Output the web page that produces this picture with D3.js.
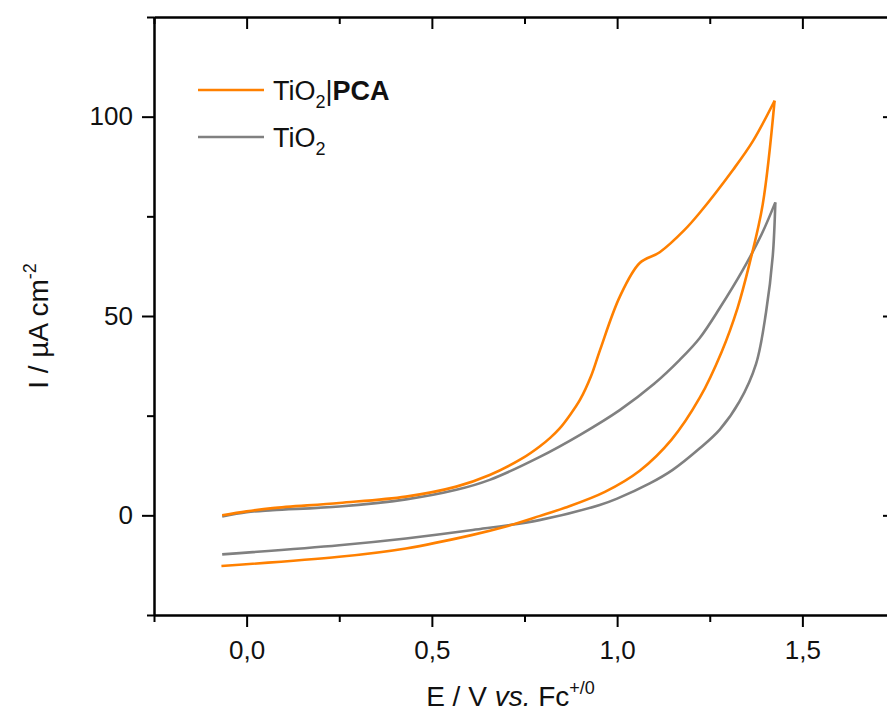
<!DOCTYPE html>
<html>
<head>
<meta charset="utf-8">
<script src="https://cdn.jsdelivr.net/npm/d3@7"></script>
<style>
  body { margin: 0; background: #fff; }
  svg { font-family: Arial, "Liberation Sans", sans-serif; display: block; }
  .axis path, .axis line { stroke: #000; stroke-width: 2px; }
  .axis text { font-size: 26px; fill: #111; }
</style>
</head>
<body>
<div id="cv"></div>
<script>
// Data: E (V vs Fc+/0) and I (uA cm-2)
// TiO2|PCA, forward scan
const pcaFwdE = [-0.066, 0.0, 0.07, 0.25, 0.43, 0.566, 0.656, 0.746, 0.79, 0.82, 0.845, 0.87, 0.90, 0.93, 0.954, 1.007, 1.061, 1.115, 1.182, 1.223, 1.313, 1.366, 1.425];
const pcaFwdI = [0, 1.0, 1.8, 3.1, 4.7, 7.2, 10.1, 14.4, 17.2, 19.5, 21.8, 24.8, 29, 35, 41.5, 54.8, 63.3, 66.0, 71.6, 75.9, 86.7, 93.8, 104];
// TiO2|PCA, reverse scan
const pcaRevE = [1.425, 1.393, 1.357, 1.325, 1.282, 1.223, 1.147, 1.061, 0.967, 0.859, 0.79, 0.70, 0.61, 0.43, 0.25, -0.068];
const pcaRevI = [104, 78, 63, 52, 41, 29.5, 19, 11.2, 5.9, 1.9, -0.2, -2.8, -4.9, -8.3, -10.4, -12.7];
// TiO2, forward scan
const tioFwdE = [-0.066, 0.0, 0.07, 0.25, 0.43, 0.566, 0.656, 0.79, 0.9, 1.007, 1.1, 1.169, 1.223, 1.277, 1.339, 1.39, 1.427];
const tioFwdI = [-0.3, 0.8, 1.3, 2.2, 4.0, 6.4, 8.9, 14.6, 20.2, 26.4, 33, 39, 44.5, 52, 61.5, 70.5, 78.5];
// TiO2, reverse scan
const tioRevE = [1.427, 1.42, 1.402, 1.375, 1.33, 1.277, 1.223, 1.15, 1.088, 1.0, 0.953, 0.79, 0.61, 0.43, 0.25, -0.066];
const tioRevI = [78.5, 65, 51, 38, 28.5, 21.5, 16.8, 11.4, 8.0, 4.2, 2.6, -1.2, -3.7, -5.8, -7.5, -9.8];

const xMajor = [0, 0.5, 1.0, 1.5];
const xMinor = [-0.25, 0.25, 0.75, 1.25, 1.75];
const yMajor = [0, 50, 100];
const yMinor = [-25, 25, 75, 125];

const orange = "#ff8000";
const grey = "#808080";

let margin = {top: 17, right: 0, bottom: 103, left: 154};
let width = 741;
let height = 598;

var svg = d3.select("#cv")
  .append("svg")
    .attr("width", 887)
    .attr("height", 718)
  .append("g")
    .attr("transform", "translate(" + margin.left + "," + margin.top + ")");

var x = d3.scaleLinear().domain([-0.25, 1.75]).range([0, width]);
var y = d3.scaleLinear().domain([-25, 125]).range([height, 0]);

const commaFmt = d => d3.format(".1f")(d).replace(".", ",");

// bottom axis
svg.append("g").attr("class", "axis")
  .attr("transform", "translate(0," + height + ")")
  .call(d3.axisBottom(x).tickValues(xMinor).tickSize(7).tickSizeOuter(0).tickFormat(""));
svg.append("g").attr("class", "axis")
  .attr("transform", "translate(0," + height + ")")
  .call(d3.axisBottom(x).tickValues(xMajor).tickSize(12).tickSizeOuter(0).tickPadding(14).tickFormat(commaFmt));
// top axis, ticks inward
svg.append("g").attr("class", "axis")
  .call(d3.axisTop(x).tickValues(xMinor).tickSize(-7).tickSizeOuter(0).tickFormat(""));
svg.append("g").attr("class", "axis")
  .call(d3.axisTop(x).tickValues(xMajor).tickSize(-12).tickSizeOuter(0).tickFormat(""));
// left axis
svg.append("g").attr("class", "axis")
  .call(d3.axisLeft(y).tickValues(yMinor).tickSize(7).tickSizeOuter(0).tickFormat(""));
svg.append("g").attr("class", "axis")
  .call(d3.axisLeft(y).tickValues(yMajor).tickSize(12).tickSizeOuter(0).tickPadding(9).tickFormat(d3.format("d")));
// right axis, ticks inward
svg.append("g").attr("class", "axis")
  .attr("transform", "translate(" + width + ",0)")
  .call(d3.axisRight(y).tickValues(yMinor).tickSize(-7).tickSizeOuter(0).tickFormat(""));
svg.append("g").attr("class", "axis")
  .attr("transform", "translate(" + width + ",0)")
  .call(d3.axisRight(y).tickValues(yMajor).tickSize(-12).tickSizeOuter(0).tickFormat(""));

// curves
let line = d3.line()
  .x(d => x(d[0]))
  .y(d => y(d[1]))
  .curve(d3.curveCatmullRom.alpha(0.5));

function branch(es, is) {
  return es.map((e, i) => [e, is[i]]);
}

let curves = [
  {pts: branch(tioFwdE, tioFwdI), color: grey},
  {pts: branch(tioRevE, tioRevI), color: grey},
  {pts: branch(pcaFwdE, pcaFwdI), color: orange},
  {pts: branch(pcaRevE, pcaRevI), color: orange}
];

svg.selectAll(".cv")
  .data(curves)
  .enter()
  .append("path")
    .attr("class", "cv")
    .attr("fill", "none")
    .attr("stroke", d => d.color)
    .attr("stroke-width", 2.6)
    .attr("stroke-linejoin", "round")
    .attr("d", d => line(d.pts));

// legend
let legend = svg.append("g").attr("transform", "translate(44,73)");
let legendItems = [
  {color: orange, y: 0, pca: true},
  {color: grey, y: 47, pca: false}
];
legendItems.forEach(it => {
  legend.append("line")
    .attr("x1", 0).attr("x2", 66)
    .attr("y1", it.y).attr("y2", it.y)
    .attr("stroke", it.color).attr("stroke-width", 2.6);
  let t = legend.append("text")
    .attr("x", 75).attr("y", it.y + 10)
    .style("font-size", "27px").style("fill", "#111");
  t.append("tspan").text("TiO");
  t.append("tspan").attr("dy", 8).style("font-size", "18px").text("2");
  if (it.pca) {
    t.append("tspan").attr("dy", -8).text("|");
    t.append("tspan").style("font-weight", "bold").text("PCA");
  }
});

// axis titles
let xt = svg.append("text")
  .attr("x", width / 2 - 14)
  .attr("y", height + 91)
  .attr("text-anchor", "middle")
  .style("font-size", "28px").style("fill", "#111");
xt.append("tspan").text("E / V ");
xt.append("tspan").style("font-style", "italic").text("vs.");
xt.append("tspan").text(" Fc");
xt.append("tspan").attr("dy", -12).style("font-size", "18px").text("+/0");

let yt = svg.append("text")
  .attr("transform", "translate(" + (-106) + "," + (height / 2 + 10) + ") rotate(-90)")
  .attr("text-anchor", "middle")
  .style("font-size", "28px").style("fill", "#111");
yt.append("tspan").text("I / µA cm");
yt.append("tspan").attr("dy", -12).style("font-size", "18px").text("-2");
</script>
</body>
</html>
